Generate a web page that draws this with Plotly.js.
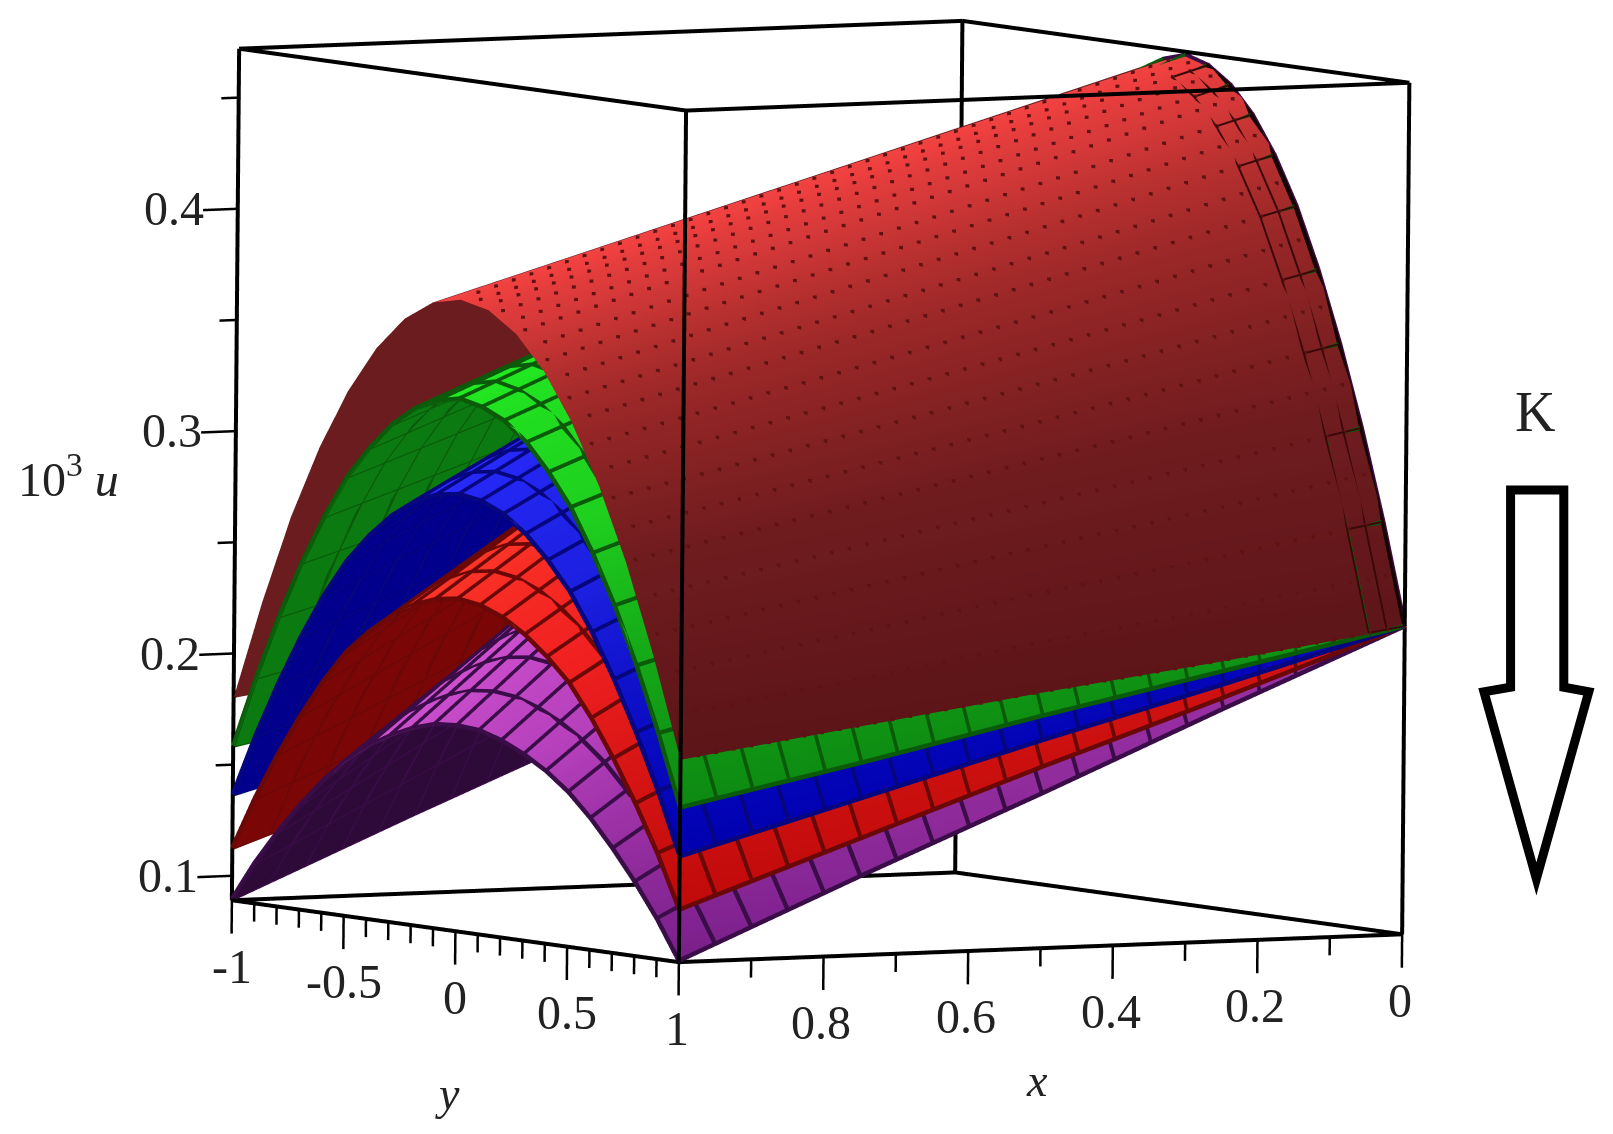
<!DOCTYPE html>
<html>
<head>
<meta charset="utf-8">
<script src="https://cdn.plot.ly/plotly-3.0.1.min.js"></script>
<style>html,body{margin:0;padding:0;background:#fff}</style>
</head>
<body>
<div id="plot" style="width:1613px;height:1134px"></div>
<script>
// grid
var xVals = [0, 0.25, 0.5, 0.75, 1];
var yVals = [-1, -0.875, -0.75, -0.625, -0.5, -0.375, -0.25, -0.125, 0, 0.125, 0.25, 0.375, 0.5, 0.625, 0.75, 0.875, 1];

// one row per x value, one column per y value
var uMaroon = [
  [0.227,0.284,0.333,0.375,0.409,0.436,0.455,0.466,0.470,0.466,0.455,0.436,0.409,0.375,0.333,0.284,0.227],
  [0.215,0.269,0.316,0.355,0.388,0.413,0.431,0.442,0.446,0.442,0.431,0.413,0.388,0.355,0.316,0.269,0.215],
  [0.204,0.255,0.299,0.336,0.367,0.391,0.408,0.418,0.422,0.418,0.408,0.391,0.367,0.336,0.299,0.255,0.204],
  [0.192,0.240,0.282,0.317,0.346,0.369,0.385,0.394,0.398,0.394,0.385,0.369,0.346,0.317,0.282,0.240,0.192],
  [0.180,0.225,0.265,0.298,0.325,0.346,0.361,0.370,0.373,0.370,0.361,0.346,0.325,0.298,0.265,0.225,0.180]
];
var uGreen = [
  [0.227,0.284,0.333,0.375,0.409,0.436,0.455,0.466,0.470,0.466,0.455,0.436,0.409,0.375,0.333,0.284,0.227],
  [0.210,0.263,0.309,0.347,0.379,0.403,0.421,0.431,0.435,0.431,0.421,0.403,0.379,0.347,0.309,0.263,0.210],
  [0.193,0.241,0.283,0.318,0.348,0.370,0.387,0.396,0.399,0.396,0.387,0.370,0.348,0.318,0.283,0.241,0.193],
  [0.175,0.219,0.257,0.290,0.316,0.337,0.351,0.360,0.363,0.360,0.351,0.337,0.316,0.290,0.257,0.219,0.175],
  [0.158,0.198,0.233,0.262,0.286,0.304,0.318,0.325,0.328,0.325,0.318,0.304,0.286,0.262,0.233,0.198,0.158]
];
var uBlue = [
  [0.227,0.284,0.333,0.375,0.409,0.436,0.455,0.466,0.470,0.466,0.455,0.436,0.409,0.375,0.333,0.284,0.227],
  [0.204,0.255,0.300,0.338,0.369,0.393,0.410,0.420,0.424,0.420,0.410,0.393,0.369,0.338,0.300,0.255,0.204],
  [0.182,0.227,0.267,0.301,0.329,0.350,0.366,0.375,0.378,0.375,0.366,0.350,0.329,0.301,0.267,0.227,0.182],
  [0.159,0.199,0.235,0.264,0.288,0.307,0.321,0.329,0.332,0.329,0.321,0.307,0.288,0.264,0.235,0.199,0.159],
  [0.136,0.171,0.201,0.227,0.248,0.264,0.276,0.283,0.285,0.283,0.276,0.264,0.248,0.227,0.201,0.171,0.136]
];
var uRed = [
  [0.227,0.284,0.333,0.375,0.409,0.436,0.455,0.466,0.470,0.466,0.455,0.436,0.409,0.375,0.333,0.284,0.227],
  [0.198,0.248,0.292,0.328,0.359,0.382,0.399,0.409,0.412,0.409,0.399,0.382,0.359,0.328,0.292,0.248,0.198],
  [0.170,0.213,0.250,0.282,0.308,0.328,0.343,0.352,0.354,0.352,0.343,0.328,0.308,0.282,0.250,0.213,0.170],
  [0.141,0.177,0.209,0.235,0.257,0.274,0.286,0.294,0.296,0.294,0.286,0.274,0.257,0.235,0.209,0.177,0.141],
  [0.112,0.142,0.167,0.189,0.207,0.220,0.230,0.236,0.238,0.236,0.230,0.220,0.207,0.189,0.167,0.142,0.112]
];
var uPurple = [
  [0.227,0.284,0.333,0.375,0.409,0.436,0.455,0.466,0.470,0.466,0.455,0.436,0.409,0.375,0.333,0.284,0.227],
  [0.193,0.241,0.282,0.318,0.347,0.369,0.385,0.395,0.398,0.395,0.385,0.369,0.347,0.318,0.282,0.241,0.193],
  [0.158,0.197,0.231,0.260,0.284,0.302,0.315,0.323,0.326,0.323,0.315,0.302,0.284,0.260,0.231,0.197,0.158],
  [0.124,0.154,0.180,0.203,0.221,0.235,0.245,0.251,0.254,0.251,0.245,0.235,0.221,0.203,0.180,0.154,0.124],
  [0.089,0.111,0.129,0.145,0.158,0.168,0.175,0.180,0.181,0.180,0.175,0.168,0.158,0.145,0.129,0.111,0.089]
];

// y where each surface folds from underside to top side, per x value
var foldMaroon = [-0.09, -0.10, -0.105, -0.11, -0.12];
var foldGreen = [-0.105, -0.12, -0.135, -0.155, -0.176];
var foldBlue = [-0.129, -0.15, -0.175, -0.205, -0.245];
var foldRed = [-0.154, -0.185, -0.225, -0.275, -0.346];
var foldPurple = [-0.212, -0.26, -0.33, -0.42, -0.56];

// tick labels
var xTicks = [0, 0.1, 0.2, 0.3, 0.4, 0.5, 0.6, 0.7, 0.8, 0.9, 1];
var xTickText = ['0', '', '0.2', '', '0.4', '', '0.6', '', '0.8', '', '1'];
var yTicks = [-1, -0.9, -0.8, -0.7, -0.6, -0.5, -0.4, -0.3, -0.2, -0.1, 0, 0.1, 0.2, 0.3, 0.4, 0.5, 0.6, 0.7, 0.8, 0.9, 1];
var yTickText = ['-1', '', '', '', '', '-0.5', '', '', '', '', '0', '', '', '', '', '0.5', '', '', '', '', ''];
var zTicks = [0.1, 0.15, 0.2, 0.25, 0.3, 0.35, 0.4, 0.45];
var zTickText = ['0.1', '', '0.2', '', '0.3', '', '0.4', ''];

var boxX = [0, 1];
var boxY = [-1, 1];
var boxZ = [0.089, 0.472];
var majorTick = 0.015;
var minorTick = 0.0082;
var majorTickX = 0.048;
var minorTickX = 0.024;

var serif = 'Liberation Serif, Times New Roman, serif';

function transpose(rows) {
  return rows[0].map(function(_, j) {
    return rows.map(function(r) { return r[j]; });
  });
}

// height of a surface between the table nodes, used for the mesh overlay only
function heightAt(rows, x, y) {
  var i = Math.min(Math.floor(x / 0.25), 3);
  var j = Math.min(Math.floor((y + 1) / 0.125), 15);
  var tx = (x - xVals[i]) / 0.25;
  var ty = (y - yVals[j]) / 0.125;
  var a = rows[i][j] * (1 - ty) + rows[i][j + 1] * ty;
  var b = rows[i + 1][j] * (1 - ty) + rows[i + 1][j + 1] * ty;
  return a * (1 - tx) + b * tx;
}

function surf(rows, fold, scale) {
  var span = 1 - fold[4];
  return {
    type: 'surface',
    x: xVals,
    y: yVals,
    z: transpose(rows),
    surfacecolor: yVals.map(function(y) {
      return fold.map(function(f) { return y - f; });
    }),
    cmin: -span,
    cmax: span,
    colorscale: scale,
    showscale: false,
    hoverinfo: 'skip',
    lighting: {ambient: 1, diffuse: 0, specular: 0, roughness: 1, fresnel: 0}
  };
}

function lineTrace(ex, ey, ez, color, width) {
  return {type: 'scatter3d', mode: 'lines', x: ex, y: ey, z: ez, line: {color: color, width: width}, hoverinfo: 'skip', showlegend: false};
}

// dark mesh drawn on a surface
function mesh(rows, xs, ys, color, width) {
  var ex = [], ey = [], ez = [];
  xs.forEach(function(x) {
    ys.forEach(function(y) {
      ex.push(x); ey.push(y); ez.push(heightAt(rows, x, y) + 0.0006);
    });
    ex.push(null); ey.push(null); ez.push(null);
  });
  ys.forEach(function(y) {
    xs.forEach(function(x) {
      ex.push(x); ey.push(y); ez.push(heightAt(rows, x, y) + 0.0006);
    });
    ex.push(null); ey.push(null); ez.push(null);
  });
  return lineTrace(ex, ey, ez, color, width);
}

var meshX = [0, 0.05, 0.1, 0.15, 0.2, 0.25, 0.3, 0.35, 0.4, 0.45, 0.5, 0.55, 0.6, 0.65, 0.7, 0.75, 0.8, 0.85, 0.9, 0.95, 1];
var meshY = yTicks;
var rimX = [0, 0.025, 0.05];
var rimY = [0.1, 0.2, 0.3, 0.4, 0.5, 0.6, 0.7, 0.8, 0.9, 1];
var edgeX = [0, 0.002];

// small dark flecks on the top surface, every other row staggered
function flecks(rows) {
  var fx = [], fy = [], fz = [];
  for (var j = 0; j <= 20; j++) {
    for (var i = 0; i <= 40; i++) {
      var x = (i + (j % 2 ? 0.5 : 0)) / 41, y = j / 20;
      fx.push(x); fy.push(y); fz.push(heightAt(rows, x, y) + 0.0006);
    }
  }
  return {type: 'scatter3d', mode: 'markers', x: fx, y: fy, z: fz, marker: {size: 2, color: '#5e1212', symbol: 'square', line: {width: 0}}, hoverinfo: 'skip', showlegend: false};
}

// the twelve edges of the box
function boxEdges() {
  var ex = [], ey = [], ez = [];
  function edge(a, b) {
    ex.push(a[0], b[0], null);
    ey.push(a[1], b[1], null);
    ez.push(a[2], b[2], null);
  }
  boxX.forEach(function(x) {
    boxY.forEach(function(y) {
      edge([x, y, boxZ[0]], [x, y, boxZ[1]]);
    });
    boxZ.forEach(function(z) {
      edge([x, boxY[0], z], [x, boxY[1], z]);
    });
  });
  boxY.forEach(function(y) {
    boxZ.forEach(function(z) {
      edge([boxX[0], y, z], [boxX[1], y, z]);
    });
  });
  return lineTrace(ex, ey, ez, '#000', 8);
}

// ticks of x and y hang straight down from the front bottom edges, ticks of z point left
function axisTicks() {
  var ex = [], ey = [], ez = [];
  xTicks.forEach(function(x, i) {
    ex.push(x, x, null);
    ey.push(boxY[1], boxY[1], null);
    ez.push(boxZ[0], boxZ[0] - (i % 2 ? minorTick : majorTick), null);
  });
  yTicks.forEach(function(y, i) {
    ex.push(boxX[1], boxX[1], null);
    ey.push(y, y, null);
    ez.push(boxZ[0], boxZ[0] - (i % 5 ? minorTick : majorTick), null);
  });
  zTicks.forEach(function(z, i) {
    ex.push(boxX[1], boxX[1] + (i % 2 ? minorTickX : majorTickX), null);
    ey.push(boxY[0], boxY[0], null);
    ez.push(z, z, null);
  });
  return lineTrace(ex, ey, ez, '#000', 5);
}

var scaleMaroon = [[0, '#6b1c1e'], [0.499, '#6b1c1e'], [0.505, '#f24545'], [0.56, '#f04040'], [0.66, '#d43838'], [0.777, '#9a2727'], [0.888, '#701c1f'], [1, '#5c1518']];
var scaleGreen = [[0, '#0b7a10'], [0.499, '#0b7a10'], [0.505, '#22ee22'], [0.8, '#1fd01f'], [1, '#0d8a12']];
var scaleBlue = [[0, '#00008c'], [0.499, '#00008c'], [0.505, '#2a2cff'], [0.8, '#1c20e0'], [1, '#0000b0']];
var scaleRed = [[0, '#7a0606'], [0.499, '#7a0606'], [0.505, '#ff3a2a'], [0.8, '#f02020'], [1, '#c00a0a']];
var scalePurple = [[0, '#2e0a38'], [0.499, '#2e0a38'], [0.505, '#d555d5'], [0.8, '#b53fbb'], [1, '#7a1f8a']];

var data = [
  surf(uMaroon, foldMaroon, scaleMaroon),
  surf(uGreen, foldGreen, scaleGreen),
  surf(uBlue, foldBlue, scaleBlue),
  surf(uRed, foldRed, scaleRed),
  surf(uPurple, foldPurple, scalePurple),
  flecks(uMaroon),
  mesh(uMaroon, rimX, rimY, '#3a0808', 4),
  mesh(uMaroon, edgeX, rimY, '#160404', 9),
  mesh(uGreen, meshX, meshY, '#0a5a0a', 9),
  mesh(uBlue, meshX, meshY, '#06067e', 9),
  mesh(uRed, meshX, meshY, '#6a0808', 9),
  mesh(uPurple, meshX, meshY, '#3a0c48', 9),
  boxEdges(),
  axisTicks()
];

function hiddenAxis(range) {
  return {
    range: range,
    autorange: false,
    title: {text: ''},
    showticklabels: false,
    ticks: '',
    showgrid: false,
    zeroline: false,
    showbackground: false,
    showspikes: false,
    showline: false
  };
}

// tick labels sit on the box edges, offset in pixels
function tickLabels() {
  var out = [];
  function add(x, y, z, text, dx, dy) {
    if (text) {
      out.push({x: x, y: y, z: z, text: text, showarrow: false, xshift: dx, yshift: dy, xanchor: 'center', yanchor: 'middle', font: {family: serif, size: 48, color: '#222'}});
    }
  }
  xTicks.forEach(function(v, i) { add(v, boxY[1], boxZ[0], xTickText[i], -2, -66); });
  yTicks.forEach(function(v, i) { add(boxX[1], v, boxZ[0], yTickText[i], 0, -66); });
  zTicks.forEach(function(v, i) { add(boxX[1], boxY[0], v, zTickText[i], -64, 0); });
  return out;
}

function label(text, x, y, size) {
  return {text: text, x: x, y: y, xref: 'paper', yref: 'paper', xanchor: 'center', yanchor: 'middle', showarrow: false, font: {family: serif, size: size, color: '#222'}};
}

var layout = {
  width: 1613,
  height: 1134,
  margin: {l: 0, r: 0, t: 0, b: 0},
  paper_bgcolor: '#fff',
  showlegend: false,
  scene: {
    domain: {x: [0.0056, 0.9856], y: [0.1183, 0.9843]},
    dragmode: 'orbit',
    aspectmode: 'manual',
    aspectratio: {x: 1.825, y: 1.775, z: 1.817},
    camera: {
      projection: {type: 'orthographic'},
      eye: {x: 1.54, y: 2.56, z: 0.234},
      up: {x: 0.00725, y: -0.00436, z: 1},
      center: {x: 0, y: 0, z: 0}
    },
    xaxis: hiddenAxis([-0.002, 1.06]),
    yaxis: hiddenAxis([-1.004, 1.004]),
    zaxis: hiddenAxis([0.073, 0.473]),
    annotations: tickLabels()
  },
  annotations: [
    label('10<sup>3</sup> <i>u</i>', 0.0427, 0.58, 48),
    label('<i>y</i>', 0.2775, 0.036, 46),
    label('<i>x</i>', 0.643, 0.0476, 46),
    label('K', 0.9515, 0.637, 56)
  ],
  shapes: [{
    type: 'path',
    xref: 'paper',
    yref: 'paper',
    path: 'M 0.9365 0.568 L 0.9695 0.568 L 0.9695 0.394 L 0.985 0.39 L 0.9525 0.225 L 0.92 0.39 L 0.9365 0.394 Z',
    line: {color: '#000', width: 9},
    fillcolor: 'rgba(0,0,0,0)'
  }]
};

Plotly.newPlot('plot', data, layout, {displayModeBar: false});
</script>
</body>
</html>
